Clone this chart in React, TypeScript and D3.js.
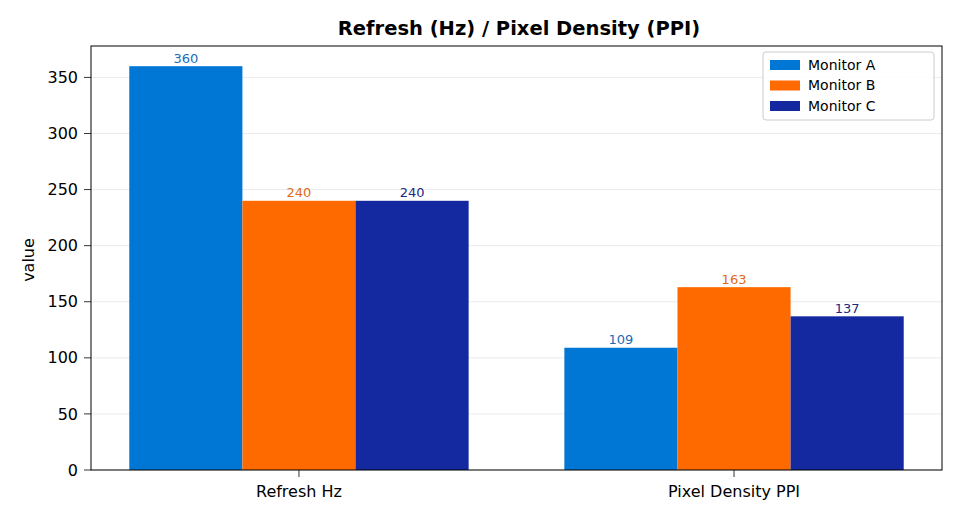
import React from "react";
import * as d3 from "d3";

const categories = ["Refresh Hz", "Pixel Density PPI"];
const seriesNames = ["Monitor A", "Monitor B", "Monitor C"];
const seriesA = [360, 109];
const seriesB = [240, 163];
const seriesC = [240, 137];
const yTicks = [0, 50, 100, 150, 200, 250, 300, 350];
const colors = ["#0077d4", "#ff6a00", "#1428a0"];
const labelColors = ["#1a6cb8", "#e06a1a", "#1c2a84"];

export default function App() {
  const W = 962, H = 520;
  const left = 91, right = 942, top = 46, bottom = 470;
  const series = [seriesA, seriesB, seriesC];
  const maxV = d3.max(series.flat()) as number;
  const y = d3.scaleLinear().domain([0, maxV * 1.05]).range([bottom, top]);
  const x = d3.scaleLinear().domain([-0.478, categories.length - 1 + 0.478]).range([left, right]);
  const bw = 0.26;
  const font = "DejaVu Sans, sans-serif";
  return (
    <svg width={W} height={H} style={{ position: "absolute", left: 0, top: 0 }} fontFamily={font}>
      <rect width={W} height={H} fill="#fff" />
      {yTicks.map((t) => (
        <line key={"g" + t} x1={left} x2={right} y1={y(t)} y2={y(t)} stroke="#e6e6e6" strokeWidth={0.8} />
      ))}
      {series.map((s, si) =>
        s.map((v, ci) => {
          const cx = x(ci + (si - 1) * bw);
          const x0 = x(ci + (si - 1) * bw - bw / 2);
          const x1 = x(ci + (si - 1) * bw + bw / 2);
          return (
            <g key={si + "-" + ci}>
              <rect x={x0} y={y(v)} width={x1 - x0} height={bottom - y(v)} fill={colors[si]} />
              <text x={cx} y={y(v) - 3.5} textAnchor="middle" fontSize={13} fill={labelColors[si]}>
                {v}
              </text>
            </g>
          );
        })
      )}
      <rect x={left} y={top} width={right - left} height={bottom - top} fill="none" stroke="#000" strokeWidth={1} />
      {yTicks.map((t) => (
        <g key={"t" + t}>
          <line x1={left - 7} x2={left} y1={y(t)} y2={y(t)} stroke="#000" strokeWidth={0.8} />
          <text x={left - 13} y={y(t)} dy="0.35em" textAnchor="end" fontSize={16} fill="#000">
            {t}
          </text>
        </g>
      ))}
      {categories.map((c, i) => (
        <g key={c}>
          <line x1={x(i)} x2={x(i)} y1={bottom} y2={bottom + 7} stroke="#000" strokeWidth={0.8} />
          <text x={x(i)} y={bottom + 27} textAnchor="middle" fontSize={16} fill="#000">
            {c}
          </text>
        </g>
      ))}
      <text transform={`translate(34,${(top + bottom) / 2 + 2}) rotate(-90)`} textAnchor="middle" fontSize={16} fill="#000">
        value
      </text>
      <text x={519} y={35} textAnchor="middle" fontSize={19.5} fontWeight="bold" fill="#000">
        Refresh (Hz) / Pixel Density (PPI)
      </text>
      <g>
        <rect x={763} y={52} width={171} height={68} rx={3} fill="#fff" fillOpacity={0.8} stroke="#cccccc" strokeWidth={1} />
        {seriesNames.map((n, i) => (
          <g key={n}>
            <rect x={770} y={60 + i * 20.5} width={30} height={10} fill={colors[i]} />
            <text x={808} y={65 + i * 20.5} dy="0.35em" fontSize={14} fill="#000">
              {n}
            </text>
          </g>
        ))}
      </g>
    </svg>
  );
}
